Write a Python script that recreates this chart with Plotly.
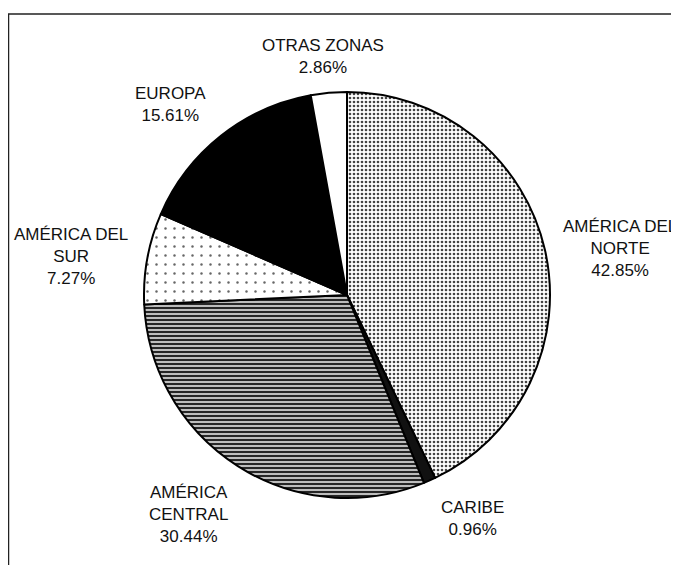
import plotly.graph_objects as go

zonas = ["AMÉRICA DEL<br>NORTE", "CARIBE", "AMÉRICA<br>CENTRAL", "AMÉRICA DEL<br>SUR", "EUROPA", "OTRAS ZONAS"]
porcentajes = [42.85, 0.96, 30.44, 7.27, 15.61, 2.86]
pct_text = ["42.85%", "0.96%", "30.44%", "7.27%", "15.61%", "2.86%"]

W, H = 679, 565
OFF = 8  # page body margin
cx, cy, r = 347 - OFF, 295 - OFF, 203

fig = go.Figure(go.Pie(
    labels=zonas,
    values=porcentajes,
    sort=False,
    direction="clockwise",
    rotation=0,
    textinfo="none",
    hoverinfo="label+percent",
    marker=dict(
        colors=["#ffffff", "#111111", "#ffffff", "#ffffff", "#000000", "#ffffff"],
        line=dict(color="#000000", width=2),
        pattern=dict(
            shape=[".", "", "-", ".", "", ""],
            fgcolor=["#444444", "#111111", "#ffffff", "#666666", "#000000", "#ffffff"],
            bgcolor=["#ffffff", "#111111", "#262626", "#ffffff", "#000000", "#ffffff"],
            size=[4, 8, 4, 9, 8, 8],
            solidity=[0.35, 0.5, 0.35, 0.06, 0.5, 0.5],
        ),
    ),
    domain=dict(x=[(cx - r) / W, (cx + r) / W], y=[1 - (cy + r) / H, 1 - (cy - r) / H]),
    showlegend=False,
))

# label block centre positions (pixels, reference image)
label_pos = [(620, 249), (472, 518), (188, 514), (71, 256), (170, 104), (323, 57)]
for z, p, (x, y) in zip(zonas, pct_text, label_pos):
    fig.add_annotation(
        x=(x - OFF) / W, y=1 - (y - OFF) / H, xref="paper", yref="paper",
        text=f"{z}<br>{p}", showarrow=False, align="center",
        xanchor="center", yanchor="middle",
        font=dict(family="Liberation Sans, Arial, sans-serif", size=17, color="#111111"),
    )

fig.add_shape(type="rect", xref="paper", yref="paper",
              x0=0.5 / W, x1=1.05, y0=-0.05, y1=1 - 6 / H,
              line=dict(color="#222222", width=1.5))

fig.update_layout(
    width=W, height=H,
    margin=dict(l=0, r=0, t=0, b=0),
    paper_bgcolor="#ffffff",
    plot_bgcolor="#ffffff",
)

fig.write_html("out.html")
